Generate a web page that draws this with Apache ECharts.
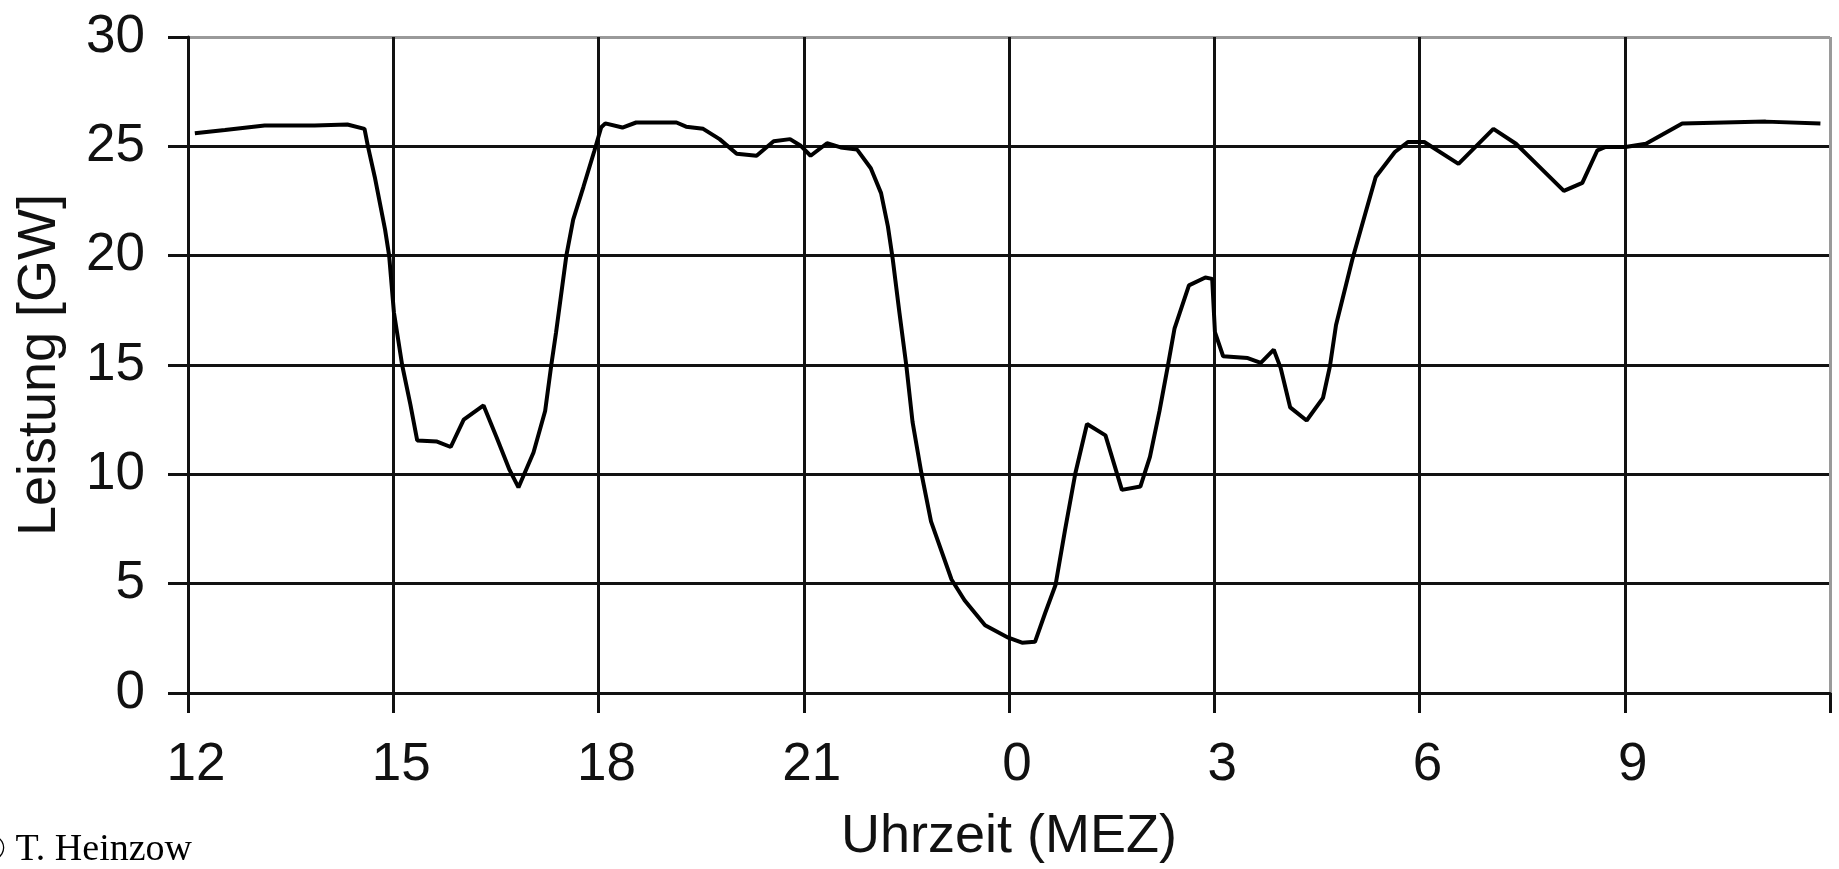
<!DOCTYPE html>
<html>
<head>
<meta charset="utf-8">
<title>Leistung</title>
<script src="https://cdn.jsdelivr.net/npm/echarts@6.0.0/dist/echarts.min.js"></script>
<style>
  html, body { margin: 0; padding: 0; background: #fff; }
  #chart { width: 1839px; height: 869px; }
</style>
</head>
<body>
<div id="chart"></div>
<script>
// Time in hours since 12:00 of day 1 (12 .. 36 = 12:00 next day)
const hours = [
  12.10, 12.54, 13.12, 13.85, 14.33, 14.58, 14.63, 14.73, 14.88, 14.94,
  15.01, 15.13, 15.25, 15.35, 15.64, 15.84, 16.03, 16.32, 16.51, 16.70,
  16.83, 17.05, 17.22, 17.31, 17.38, 17.53, 17.63, 17.78, 17.94, 18.04,
  18.10, 18.35, 18.55, 19.14, 19.28, 19.53, 19.77, 20.02, 20.31, 20.56,
  20.80, 20.95, 21.10, 21.34, 21.54, 21.78, 21.98, 22.13, 22.23, 22.30,
  22.40, 22.50, 22.59, 22.72, 22.86, 23.16, 23.35, 23.65, 23.99, 24.19,
  24.38, 24.53, 24.68, 24.82, 24.97, 25.14, 25.41, 25.65, 25.92, 26.06,
  26.20, 26.32, 26.42, 26.63, 26.87, 26.97, 27.01, 27.13, 27.49, 27.68,
  27.87, 27.97, 28.11, 28.35, 28.59, 28.69, 28.78, 29.02, 29.21, 29.36,
  29.64, 29.83, 30.07, 30.57, 31.08, 31.41, 31.75, 32.11, 32.38, 32.60,
  32.72, 33.01, 33.31, 33.84, 35.06, 35.86
];
// Leistung in GW
const power = [
  25.6, 25.75, 25.95, 25.95, 26.0, 25.8, 25.0, 23.6, 21.2, 20.0,
  17.4, 15.0, 13.2, 11.55, 11.5, 11.25, 12.5, 13.15, 11.7, 10.2,
  9.4, 11.0, 12.9, 15.0, 16.5, 20.0, 21.65, 23.15, 24.8, 25.87,
  26.05, 25.86, 26.09, 26.09, 25.9, 25.8, 25.33, 24.66, 24.57, 25.23,
  25.33, 25.04, 24.57, 25.14, 24.95, 24.85, 24.0, 22.86, 21.34, 19.86,
  17.35, 14.95, 12.4, 10.05, 7.85, 5.19, 4.24, 3.1, 2.53, 2.3,
  2.34, 3.67, 4.94, 7.47, 10.05, 12.3, 11.78, 9.29, 9.44, 10.8,
  12.9, 14.93, 16.68, 18.64, 19.0, 18.94, 16.5, 15.4, 15.32, 15.1,
  15.7, 14.87, 13.06, 12.46, 13.5, 14.93, 16.83, 19.85, 21.95, 23.6,
  24.74, 25.2, 25.2, 24.2, 25.8, 25.12, 24.07, 22.96, 23.33, 24.82,
  24.97, 24.97, 25.12, 26.04, 26.13, 26.04
];
const xTickLabels = ['12', '15', '18', '21', '0', '3', '6', '9', ''];
const xMin = 12, xMax = 36, xStep = 3;
const yMin = 0, yMax = 30, yStep = 5;
const xTitle = 'Uhrzeit (MEZ)';
const yTitle = 'Leistung [GW]';
const credit = '\u00A9 T. Heinzow';

const font = "'Liberation Sans', Arial, sans-serif";
const ink = '#111';
const xSplitColors = ['#111','#111','#111','#111','#111','#111','#111','#111','#9a9a9a'];
const ySplitColors = ['#111','#111','#111','#111','#111','#111','#9a9a9a'];

const chart = echarts.init(document.getElementById('chart'), null, { renderer: 'canvas' });
chart.setOption({
  backgroundColor: '#fff',
  animation: false,
  grid: { left: 188, right: 9, top: 37, bottom: 169, containLabel: false },
  xAxis: {
    type: 'value', min: xMin, max: xMax, interval: xStep,
    name: xTitle, nameLocation: 'middle', nameGap: 117,
    nameTextStyle: { fontFamily: font, fontSize: 54, color: ink },
    axisLine: { show: true, lineStyle: { color: ink, width: 3 } },
    axisTick: { show: true, inside: false, length: 20, lineStyle: { color: ink, width: 3 } },
    splitLine: { show: true, lineStyle: { color: xSplitColors, width: 3 } },
    axisLabel: {
      fontFamily: font, fontSize: 53, color: ink, margin: 46,
      padding: [0, 0, 0, 16],
      showMaxLabel: true,
      formatter: v => xTickLabels[Math.round((v - xMin) / xStep)]
    }
  },
  yAxis: {
    type: 'value', min: yMin, max: yMax, interval: yStep,
    name: yTitle, nameLocation: 'middle', nameGap: 121,
    nameTextStyle: { fontFamily: font, fontSize: 54, color: ink },
    axisLine: { show: true, lineStyle: { color: ink, width: 3 } },
    axisTick: { show: true, inside: false, length: 20, lineStyle: { color: ink, width: 3 } },
    splitLine: { show: true, lineStyle: { color: ySplitColors, width: 3 } },
    axisLabel: { fontFamily: font, fontSize: 53, color: ink, margin: 43 }
  },
  series: [{
    type: 'line',
    data: hours.map((h, i) => [h, power[i]]),
    showSymbol: false,
    smooth: false,
    lineStyle: { color: '#000', width: 4 },
    z: 5
  }],
  graphic: [{
    type: 'text',
    style: {
      text: credit,
      x: 192, y: 869,
      align: 'right', verticalAlign: 'bottom',
      font: "38px 'Liberation Serif', 'Times New Roman', serif",
      fill: '#000'
    }
  }]
});
</script>
</body>
</html>
